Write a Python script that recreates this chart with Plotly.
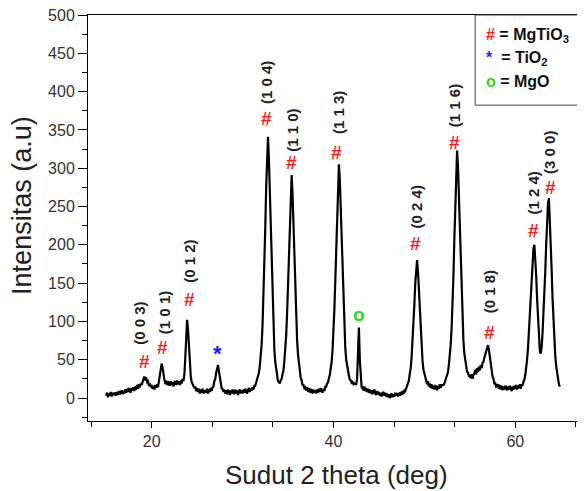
import plotly.graph_objects as go

# ---- XRD scan (2theta grid 15.0 .. 64.9, step 0.1) ----
two_theta = [round(15.0 + 0.1 * i, 1) for i in range(500)]
intensity = [
    3, 7, 1, 6, 3, 8, 2, 7, 4, 6,            # 15
    7, 3, 8, 4, 9, 5, 8, 10, 5, 9,           # 16
    6, 11, 7, 12, 8, 13, 9, 7, 13, 10,       # 17
    14, 9, 15, 11, 17, 12, 18, 14, 19, 17,   # 18
    21, 24, 28, 23, 27, 21, 22, 16, 19, 14,  # 19
    17, 12, 16, 11, 17, 13, 18, 14, 21, 27,  # 20
    36, 45, 40, 30, 24, 20, 21, 17, 22, 18,  # 21
    16, 22, 17, 21, 15, 20, 22, 17, 23, 18,  # 22
    22, 17, 23, 19, 25, 22, 31, 52, 84, 102, # 23
    90, 62, 40, 29, 21, 18, 14, 13, 15, 9,   # 24
    13, 8, 12, 6, 11, 7, 12, 6, 10, 9,       # 25
    7, 12, 6, 11, 8, 13, 9, 14, 15, 22,      # 26
    25, 33, 40, 43, 35, 26, 20, 13, 12, 8,   # 27
    11, 6, 10, 5, 11, 7, 4, 10, 6, 11,       # 28
    7, 5, 11, 6, 10, 4, 9, 11, 6, 10,        # 29
    6, 11, 7, 12, 8, 6, 11, 13, 8, 12,       # 30
    10, 14, 11, 16, 16, 21, 22, 29, 33, 42,  # 31
    53, 70, 95, 128, 170, 222, 275, 320, 341, 312,   # 32
    268, 215, 160, 120, 88, 63, 47, 36, 29, 22,      # 33
    21, 19, 23, 25, 31, 36, 48, 62, 82, 110,         # 34
    145, 188, 232, 270, 291, 266, 222, 178, 137, 103, # 35
    76, 57, 44, 35, 26, 23, 17, 17, 13, 14,  # 36
    10, 14, 8, 13, 7, 12, 8, 6, 11, 7,       # 37
    10, 6, 11, 7, 12, 8, 13, 9, 7, 12,       # 38
    9, 15, 15, 19, 20, 26, 30, 39, 47, 63,   # 39
    85, 115, 152, 198, 245, 283, 305, 285, 247, 198, # 40
    155, 118, 88, 66, 50, 41, 32, 29, 24, 23,        # 41
    20, 21, 18, 19, 18, 18, 25, 55, 92, 50,  # 42
    23, 14, 14, 10, 15, 9, 13, 8, 12, 7,     # 43
    11, 6, 10, 5, 9, 11, 6, 4, 9, 5,         # 44
    8, 3, 7, 2, 6, 8, 3, 7, 2, 6,            # 45
    1, 5, 0, 4, 6, 1, 5, 2, 7, 3,            # 46
    6, 2, 7, 3, 8, 4, 9, 5, 10, 9,           # 47
    13, 14, 20, 23, 32, 39, 54, 72, 95, 122, # 48
    150, 172, 180, 165, 140, 112, 85, 64, 48, 37,    # 49
    31, 25, 24, 18, 22, 15, 19, 13, 18, 12,  # 50
    16, 11, 17, 13, 10, 16, 12, 18, 13, 17,  # 51
    17, 17, 19, 23, 24, 30, 34, 44, 54, 70,  # 52
    92, 122, 160, 208, 258, 300, 323, 302, 262, 212, # 53
    165, 126, 96, 74, 58, 47, 41, 34, 33, 29,        # 54
    29, 26, 31, 25, 30, 32, 37, 31, 39, 34,  # 55
    41, 36, 43, 39, 46, 47, 53, 57, 63, 67,  # 56
    69, 63, 54, 44, 37, 28, 25, 19, 19, 15,  # 57
    16, 18, 12, 17, 11, 16, 10, 15, 11, 16,  # 58
    14, 10, 15, 11, 16, 12, 9, 15, 11, 16,   # 59
    12, 17, 11, 16, 13, 18, 12, 17, 17, 21,  # 60
    24, 30, 38, 50, 65, 85, 108, 132, 158, 180,      # 61
    195, 200, 185, 160, 130, 100, 75, 62, 58, 66,    # 62
    85, 108, 130, 165, 200, 232, 254, 261, 235, 200, # 63
    168, 130, 98, 72, 55, 42, 33, 26, 18, 15,        # 64
]

# ---- peak annotations (MgTiO3) ----
peak_labels = ["(0 0 3)", "(1 0 1)", "(0 1 2)", "(1 0 4)", "(1 1 0)", "(1 1 3)",
               "(0 2 4)", "(1 1 6)", "(0 1 8)", "(1 2 4)", "(3 0 0)"]
label_x = [18.7, 21.35, 24.21, 32.65, 35.54, 40.5, 49.18, 53.26, 57.11, 61.95, 63.82]
label_y = [98, 112, 179, 412, 350, 372, 250, 381, 138, 267, 320]
hash_x = [19.26, 21.24, 24.21, 32.65, 35.43, 40.38, 48.97, 53.26, 57.11, 61.95, 63.82]
hash_y = [48, 66, 129, 365, 307, 321, 202, 333, 86, 219, 275]

tio2_pos = (27.29, 64)
mgo_pos = (42.8, 107)

legend_rows = [("#", "#ff1a1a", "MgTiO<sub>3</sub>"),
               ("*", "#1a1aff", "TiO<sub>2</sub>"),
               ("o", "#22dd22", "MgO")]

FONT = "Liberation Sans, Arial, sans-serif"
RED = "#ff1a1a"

fig = go.Figure()
fig.add_trace(go.Scatter(x=two_theta, y=intensity, mode="lines",
                         line=dict(color="black", width=2.2),
                         showlegend=False, hoverinfo="skip"))

ann = []
for t, x, y in zip(peak_labels, label_x, label_y):
    ann.append(dict(x=x, y=y, text="<b>%s</b>" % t, showarrow=False, textangle=-90,
                    font=dict(family=FONT, size=15, color="#222222"),
                    xanchor="center", yanchor="middle"))
for x, y in zip(hash_x, hash_y):
    ann.append(dict(x=x, y=y, text="<b>#</b>", showarrow=False,
                    font=dict(family=FONT, size=19, color=RED),
                    xanchor="center", yanchor="middle"))
ann.append(dict(x=tio2_pos[0], y=tio2_pos[1], text="<b>*</b>", showarrow=False, yshift=-5,
                font=dict(family=FONT, size=22, color="#1a1aff"),
                xanchor="center", yanchor="middle"))
ann.append(dict(x=mgo_pos[0], y=mgo_pos[1], text="<b>o</b>", showarrow=False, yshift=2,
                font=dict(family=FONT, size=19, color="#22dd22"),
                xanchor="center", yanchor="middle"))

row_y = [0.949, 0.893, 0.836]
for (sym, col, name), yy in zip(legend_rows, row_y):
    pad = " " if sym == "*" else ""
    ann.append(dict(xref="paper", yref="paper", x=0.797, y=yy,
                    text="<b><span style='color:%s'>%s</span>%s = %s</b>" % (col, sym, pad, name),
                    showarrow=False, xanchor="left", yanchor="middle",
                    font=dict(family=FONT, size=16, color="#111111")))

# axis titles
ann.append(dict(xref="paper", yref="paper", x=0.5, y=-0.133, text="Sudut 2 theta (deg)",
                showarrow=False, xanchor="center", yanchor="middle",
                font=dict(family=FONT, size=26, color="#222222")))
ann.append(dict(xref="paper", yref="paper", x=-0.133, y=0.532, text="Intensitas (a.u)",
                showarrow=False, xanchor="center", yanchor="middle", textangle=-90,
                font=dict(family=FONT, size=27, color="#222222")))

fig.update_layout(
    width=577, height=483,
    margin=dict(l=80, r=0, t=7, b=70, autoexpand=False),
    paper_bgcolor="white", plot_bgcolor="white",
    font=dict(family=FONT, color="#222222"),
    annotations=ann,
    shapes=[dict(type="rect", xref="paper", yref="paper", x0=0.779, x1=1.05, y0=0.778, y1=1.0,
                 line=dict(color="#444444", width=1), fillcolor="rgba(0,0,0,0)")],
)
fig.update_xaxes(range=[13.0, 67.67], showgrid=False, zeroline=False, automargin=False,
                 showline=True, linecolor="black", linewidth=1, mirror=True,
                 tickvals=[20, 40, 60], ticks="outside", ticklen=6, tickcolor="black",
                 tickfont=dict(family=FONT, size=16, color="#333333"),
                 minor=dict(dtick=20 / 3, tick0=20, ticks="outside", ticklen=5, tickcolor="black"))
fig.update_yaxes(range=[-30, 500], showgrid=False, zeroline=False, automargin=False,
                 showline=True, linecolor="black", linewidth=1, ticklabeloverflow="allow",
                 tick0=0, dtick=50, ticks="outside", ticklen=9, tickcolor="black",
                 tickfont=dict(family=FONT, size=16, color="#333333"),
                 minor=dict(dtick=25, tick0=0, ticks="outside", ticklen=5, tickcolor="black"))

fig.write_html("out.html", config={"displayModeBar": False})
